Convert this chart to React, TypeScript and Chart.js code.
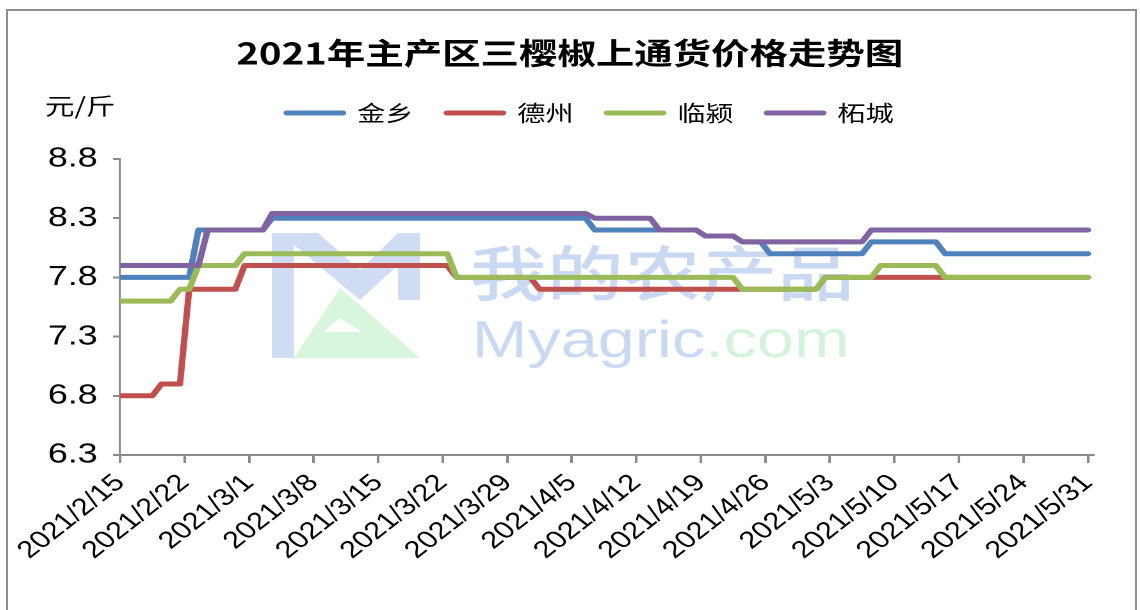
import React, { useEffect, useRef } from 'react';
import { Chart, registerables } from 'chart.js';

Chart.register(...registerables);

// ---------------- data ----------------
const chartTitle = '2021年主产区三樱椒上通货价格走势图';
const unitLabel = '元/斤';
const seriesNames = ['金乡', '德州', '临颍', '柘城'];
const seriesColors = ['#4F81BD', '#C0504D', '#9BBB59', '#8064A2'];

// x = days after 2021/2/15, y = price (元/斤), at each change point of the series
const jinxiangDays = [0, 7.5, 8.5, 15.5, 16.5, 50.5, 51.5, 62.5, 63.5, 66.5, 67.5, 69.5, 70.5, 80.5, 81.5, 88.5, 89.5, 105];
const jinxiangPrices = [7.8, 7.8, 8.2, 8.2, 8.3, 8.3, 8.2, 8.2, 8.15, 8.15, 8.1, 8.1, 8.0, 8.0, 8.1, 8.1, 8.0, 8.0];

const dezhouDays = [0, 3.5, 4.5, 6.5, 7.5, 12.5, 13.5, 35.5, 36.5, 44.5, 45.5, 75.5, 76.5, 105];
const dezhouPrices = [6.8, 6.8, 6.9, 6.9, 7.7, 7.7, 7.9, 7.9, 7.8, 7.8, 7.7, 7.7, 7.8, 7.8];

const linyingDays = [0, 5.5, 6.5, 7.5, 8.5, 12.5, 13.5, 35.5, 36.5, 66.5, 67.5, 75.5, 76.5, 81.5, 82.5, 88.5, 89.5, 105];
const linyingPrices = [7.6, 7.6, 7.7, 7.7, 7.9, 7.9, 8.0, 8.0, 7.8, 7.8, 7.7, 7.7, 7.8, 7.8, 7.9, 7.9, 7.8, 7.8];

const zhechengDays = [0, 8.5, 9.5, 15.5, 16.5, 50.5, 51.5, 57.5, 58.5, 62.5, 63.5, 66.5, 67.5, 80.5, 81.5, 105];
const zhechengPrices = [7.9, 7.9, 8.2, 8.2, 8.34, 8.34, 8.3, 8.3, 8.2, 8.2, 8.15, 8.15, 8.1, 8.1, 8.2, 8.2];

const xTickDays = [0, 7, 14, 21, 28, 35, 42, 49, 56, 63, 70, 77, 84, 91, 98, 105];
const xTickLabels = [
  '2021/2/15', '2021/2/22', '2021/3/1', '2021/3/8', '2021/3/15', '2021/3/22', '2021/3/29', '2021/4/5',
  '2021/4/12', '2021/4/19', '2021/4/26', '2021/5/3', '2021/5/10', '2021/5/17', '2021/5/24', '2021/5/31',
];
const yTicks = [6.3, 6.8, 7.3, 7.8, 8.3, 8.8];

const watermarkCn = '我的农产品';
const watermarkEn1 = 'Myagric';
const watermarkEn2 = '.com';

// ---------------- layout ----------------
const S = 1127 / 880; // horizontal stretch of the reference picture
const W = 880;
const H = 601;
const CJK = '"Noto Sans CJK SC", "Noto Sans", sans-serif';
const LAT = '"Liberation Sans", Arial, sans-serif';
const AXIS = '#8a8a8a';

const u = (X: number) => (X - 8) / S; // page x -> canvas x
const v = (Y: number) => Y - 11; // page y -> canvas y

const zip = (xs: number[], ys: number[]) => xs.map((x, i) => ({ x, y: ys[i] }));

const extrasPlugin = {
  id: 'extras',
  afterLayout(chart: any) {
    const lg = chart.legend;
    if (lg) {
      lg.top -= 25;
      lg.bottom -= 25;
      lg.left += 16;
      lg.right += 16;
    }
  },
  beforeDatasetsDraw(chart: any) {
    const ctx = chart.ctx;
    ctx.save();
    // logo
    ctx.fillStyle = '#cfdcf4';
    ctx.beginPath();
    ctx.moveTo(u(272), v(233));
    ctx.lineTo(u(318), v(233));
    ctx.lineTo(u(360), v(270));
    ctx.lineTo(u(398), v(233));
    ctx.lineTo(u(420), v(233));
    ctx.lineTo(u(420), v(300));
    ctx.lineTo(u(398), v(300));
    ctx.lineTo(u(398), v(265));
    ctx.lineTo(u(360), v(300));
    ctx.lineTo(u(294), v(245));
    ctx.lineTo(u(294), v(358));
    ctx.lineTo(u(272), v(358));
    ctx.closePath();
    ctx.fill();
    ctx.fillStyle = '#d8f6dd';
    ctx.beginPath();
    ctx.moveTo(u(294), v(358));
    ctx.lineTo(u(340), v(288));
    ctx.lineTo(u(420), v(358));
    ctx.closePath();
    ctx.fill();
    ctx.fillStyle = '#ffffff';
    ctx.beginPath();
    ctx.moveTo(u(323), v(332));
    ctx.lineTo(u(340), v(318));
    ctx.lineTo(u(362), v(332));
    ctx.closePath();
    ctx.fill();
    // text
    ctx.textBaseline = 'alphabetic';
    ctx.textAlign = 'left';
    ctx.font = `500 60px ${CJK}`;
    ctx.fillStyle = '#cad9f3';
    ctx.fillText(watermarkCn, u(470), v(296));
    ctx.font = `52px ${LAT}`;
    ctx.fillText(watermarkEn1, u(472), v(357));
    const w1 = ctx.measureText(watermarkEn1).width;
    ctx.fillStyle = '#d3f4da';
    ctx.fillText(watermarkEn2, u(472) + w1, v(357));
    ctx.restore();
  },
  afterDraw(chart: any) {
    const ctx = chart.ctx;
    ctx.save();
    ctx.font = `23px ${CJK}`;
    ctx.fillStyle = '#000';
    ctx.textBaseline = 'middle';
    ctx.textAlign = 'left';
    ctx.fillText(unitLabel, u(45), v(106));
    ctx.restore();
  },
};

export default function App() {
  const ref = useRef<HTMLCanvasElement | null>(null);

  useEffect(() => {
    if (!ref.current) return;
    const dayLists = [jinxiangDays, dezhouDays, linyingDays, zhechengDays];
    const priceLists = [jinxiangPrices, dezhouPrices, linyingPrices, zhechengPrices];
    const datasets = seriesNames.map((name, i) => ({
      label: name,
      data: zip(dayLists[i], priceLists[i]),
      borderColor: seriesColors[i],
      backgroundColor: seriesColors[i],
      borderWidth: 5,
      borderJoinStyle: 'round' as const,
      borderCapStyle: 'round' as const,
      pointRadius: 0,
      pointHoverRadius: 0,
      tension: 0,
      fill: false,
      order: seriesNames.length - i,
    }));

    const chart = new Chart(ref.current, {
      type: 'line',
      data: { datasets },
      plugins: [extrasPlugin],
      options: {
        animation: false,
        responsive: false,
        devicePixelRatio: 2,
        events: [],
        layout: { padding: { left: 29.6, right: 32.4, top: 0, bottom: 0 } },
        plugins: {
          title: {
            display: true,
            text: chartTitle,
            color: '#000',
            font: { family: CJK, size: 30, weight: 'bold' },
            padding: { top: 24, bottom: 30 },
          },
          legend: {
            display: true,
            position: 'top',
            labels: {
              usePointStyle: true,
              pointStyle: 'line',
              pointStyleWidth: 44,
              padding: 26,
              color: '#000',
              font: { family: CJK, size: 22 },
              generateLabels: (c: any) =>
                c.data.datasets.map((ds: any, i: number) => ({
                  text: ds.label,
                  strokeStyle: ds.borderColor,
                  fillStyle: ds.borderColor,
                  fontColor: '#000',
                  lineWidth: 5,
                  lineCap: 'round',
                  pointStyle: 'line',
                  hidden: false,
                  datasetIndex: i,
                })),
            },
          },
          tooltip: { enabled: false },
        },
        scales: {
          x: {
            type: 'linear',
            min: 0,
            max: 105.6,
            afterBuildTicks: (s: any) => {
              s.ticks = xTickDays.map((d) => ({ value: d }));
            },
            afterFit: (s: any) => {
              s.height = H - 444;
            },
            ticks: {
              autoSkip: false,
              minRotation: 45,
              maxRotation: 45,
              padding: 6,
              color: '#000',
              font: { family: LAT, size: 24 },
              callback: (_v: any, i: number) => xTickLabels[i],
            },
            grid: { drawOnChartArea: false, drawTicks: true, tickLength: 8, color: AXIS, lineWidth: 2 },
            border: { display: true, color: AXIS, width: 2 },
          },
          y: {
            type: 'linear',
            min: 6.3,
            max: 8.8,
            afterBuildTicks: (s: any) => {
              s.ticks = yTicks.map((t) => ({ value: t }));
            },
            afterFit: (s: any) => {
              s.width = 87.5 - 29.6;
            },
            ticks: {
              padding: 12,
              color: '#000',
              font: { family: LAT, size: 28 },
              callback: (val: any) => Number(val).toFixed(1),
            },
            grid: { drawOnChartArea: false, drawTicks: true, tickLength: 5.5, color: AXIS, lineWidth: 2 },
            border: { display: true, color: AXIS, width: 1.6 },
          },
        },
      },
    });
    return () => chart.destroy();
  }, []);

  return (
    <div
      style={{
        position: 'fixed',
        left: 6,
        top: 9,
        width: 1131,
        height: 610,
        border: '2px solid #8f8f8f',
        boxSizing: 'border-box',
        background: '#fff',
        overflow: 'hidden',
      }}
    >
      <div style={{ width: W, height: H, transform: `scaleX(${S})`, transformOrigin: '0 0' }}>
        <canvas ref={ref} width={W} height={H} style={{ width: W, height: H, display: 'block' }} />
      </div>
    </div>
  );
}
